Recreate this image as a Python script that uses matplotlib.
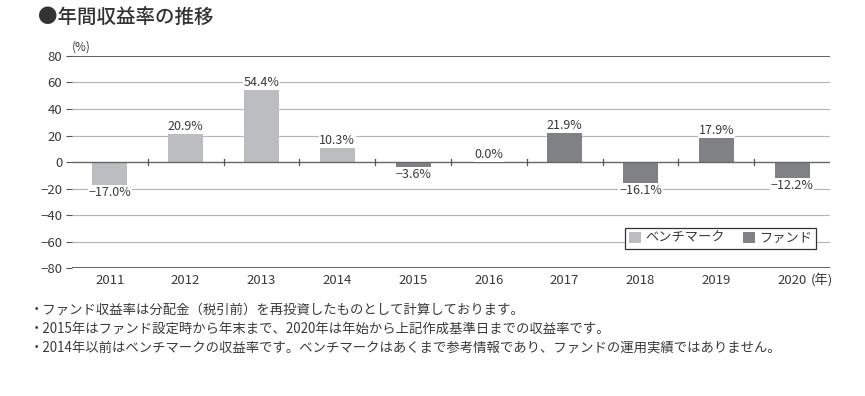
import numpy as np
import matplotlib
matplotlib.use('Agg')
import matplotlib.pyplot as plt
from matplotlib.patches import Patch

plt.rcParams['font.family'] = ['Noto Sans CJK JP', 'DejaVu Sans']

years = ['2011', '2012', '2013', '2014', '2015', '2016', '2017', '2018', '2019', '2020']
values = [-17.0, 20.9, 54.4, 10.3, -3.6, 0.0, 21.9, -16.1, 17.9, -12.2]
series = ['bench', 'bench', 'bench', 'bench', 'fund', 'fund', 'fund', 'fund', 'fund', 'fund']
yticks = [-80, -60, -40, -20, 0, 20, 40, 60, 80]
notes = [
    '・ファンド収益率は分配金（税引前）を再投資したものとして計算しております。',
    '・2015年はファンド設定時から年末まで、2020年は年始から上記作成基準日までの収益率です。',
    '・2014年以前はベンチマークの収益率です。ベンチマークはあくまで参考情報であり、ファンドの運用実績ではありません。',
]

bench_color = '#bcbdc0'
fund_color = '#808184'
text_color = '#3a3a3a'

fig = plt.figure(figsize=(8.65, 3.96), dpi=100)
ax = fig.add_axes([0.0832, 0.3232, 0.8763, 0.5354])

x = np.arange(len(years))
colors = [bench_color if s == 'bench' else fund_color for s in series]

for v in yticks:
    if v in (80, -80):
        ax.axhline(v, color='#555555', lw=1.3, zorder=1)
    elif v == 0:
        ax.axhline(v, color='#666666', lw=1.0, zorder=3)
    else:
        ax.axhline(v, color='#b5b5b5', lw=0.8, zorder=1)

ax.bar(x, values, width=0.46, color=colors, zorder=2)

# small ticks on the zero line between categories
for b in x[:-1] + 0.5:
    ax.plot([b, b], [-2.5, 2.5], color='#555555', lw=0.9, zorder=3)

for xi, v in zip(x, values):
    if v >= 0:
        ax.text(xi, v + 0.8, f'{v:.1f}%', ha='center', va='bottom', fontsize=9,
                color=text_color, zorder=4,
                bbox=dict(facecolor='white', edgecolor='none', pad=0.5))
    else:
        ax.text(xi, v - 0.8, f'\u2212{abs(v):.1f}%', ha='center', va='top', fontsize=9,
                color=text_color, zorder=4,
                bbox=dict(facecolor='white', edgecolor='none', pad=0.5))

ax.set_xlim(-0.5, len(years) - 0.5)
ax.set_ylim(-80, 80)
ax.set_yticks(yticks)
ax.set_yticklabels([str(v).replace('-', '\u2212') for v in yticks], fontsize=9.5, color=text_color)
ax.set_xticks(x)
ax.set_xticklabels(years, fontsize=9.5, color=text_color)
ax.tick_params(axis='y', length=4, width=0.8, color='#555555', pad=3)
ax.tick_params(axis='x', length=0, pad=4)
for s in ax.spines.values():
    s.set_visible(False)

ax.text(x[-1] + 0.25, -84, '(年)', fontsize=9.5, color=text_color, ha='left', va='top')

ax.text(0.0, 1.01, '(%)', transform=ax.transAxes, fontsize=8.5, color=text_color,
        ha='left', va='bottom')

handles = [Patch(facecolor=bench_color, label='ベンチマーク'),
           Patch(facecolor=fund_color, label='ファンド')]
leg = ax.legend(handles=handles, loc='lower right', bbox_to_anchor=(0.99, 0.06), ncol=2,
                fontsize=9.5, frameon=True, fancybox=False, handlelength=0.9, handleheight=0.9,
                handletextpad=0.3, columnspacing=1.4, borderpad=0.3)
leg.get_frame().set_edgecolor('#333333')
leg.get_frame().set_linewidth(0.9)
leg.get_frame().set_alpha(1.0)
for t in leg.get_texts():
    t.set_color(text_color)

fig.text(0.044, 0.955, '●年間収益率の推移', fontsize=14, color='#333333', ha='left', va='center',
         fontweight='medium')

for i, n in enumerate(notes):
    fig.text(0.034, 0.218 - i * 0.049, n, fontsize=9.6, color=text_color, ha='left', va='center')

fig.savefig('out.png', dpi=100)
